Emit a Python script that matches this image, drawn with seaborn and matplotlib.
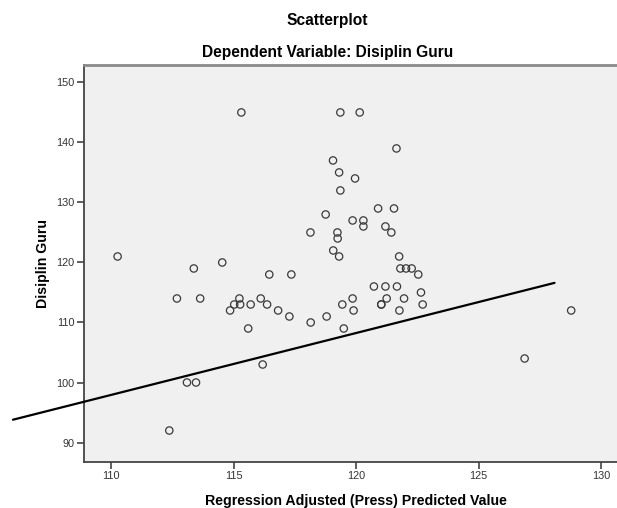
import matplotlib
matplotlib.use('Agg')
import matplotlib.pyplot as plt
import seaborn as sns
import pandas as pd

pred = [110.27, 112.38, 112.69, 113.10, 113.47, 113.38, 113.64, 114.54, 114.86, 115.03,
        115.24, 115.27, 115.32, 115.60, 115.70, 116.11, 116.19, 116.37, 116.46, 116.82,
        117.28, 117.36, 118.14, 118.15, 118.76, 118.80, 119.06, 119.07, 119.24, 119.25,
        119.31, 119.31, 119.36, 119.36, 119.44, 119.50, 119.86, 119.86, 119.90, 119.96,
        120.15, 120.30, 120.30, 120.73, 120.90, 121.03, 121.03, 121.20, 121.20, 121.25,
        121.44, 121.55, 121.65, 121.67, 121.76, 121.77, 121.81, 121.96, 122.04, 122.27,
        122.54, 122.65, 122.72, 126.88, 128.78]
disiplin = [121, 92, 114, 100, 100, 119, 114, 120, 112, 113,
            114, 113, 145, 109, 113, 114, 103, 113, 118, 112,
            111, 118, 125, 110, 128, 111, 137, 122, 125, 124,
            135, 121, 132, 145, 113, 109, 127, 114, 112, 134,
            145, 127, 126, 116, 129, 113, 113, 116, 126, 114,
            125, 129, 139, 116, 121, 112, 119, 114, 119, 119,
            118, 115, 113, 104, 112]

# fit line end points
fit_x = [106.0, 128.1]
fit_y = [93.8, 116.6]

xticks = [110, 115, 120, 125, 130]
yticks = [90, 100, 110, 120, 130, 140, 150]

df = pd.DataFrame({'pred': pred, 'disiplin': disiplin})

sns.set_style('white', {'axes.facecolor': '#f0f0f0'})
plt.rcParams['font.family'] = ['Liberation Sans', 'DejaVu Sans']

fig = plt.figure(figsize=(6.17, 5.08), dpi=100)
ax = fig.add_axes([0.1366, 0.0911, 1 - 0.1366, 0.872 - 0.0911])

sns.scatterplot(data=df, x='pred', y='disiplin', ax=ax, marker='o', s=28,
                facecolor='none', edgecolor='#3a3a3a', linewidth=0.9)
ax.plot(fit_x, fit_y, color='black', lw=1.6, clip_on=False, zorder=3)

ax.set_xlim(108.91, 130.65)
ax.set_ylim(86.8, 152.9)
ax.set_xticks(xticks)
ax.set_yticks(yticks)
ax.tick_params(axis='both', direction='out', length=5, width=1.2, color='#444444',
               labelsize=7.8, labelcolor='#333333', pad=2, bottom=True, left=True)

for side in ['left', 'bottom']:
    ax.spines[side].set_color('#444444')
    ax.spines[side].set_linewidth(1.3)
ax.spines['top'].set_color('#8a8a8a')
ax.spines['top'].set_linewidth(2)
ax.spines['right'].set_visible(False)

ax.set_xlabel('Regression Adjusted (Press) Predicted Value', fontsize=10.2,
              fontweight='bold', va='center', color='black')
ax.set_ylabel('Disiplin Guru', fontsize=10.2, fontweight='bold', va='center',
              color='black')
ax.xaxis.set_label_coords(0.51, -0.099)
ax.yaxis.set_label_coords(-0.078, 0.5)

fig.text(0.531, 1 - 20 / 508, 'Scatterplot', ha='center', va='center',
         fontsize=11.2, fontweight='bold', color='black')
fig.text(0.531, 1 - 52 / 508, 'Dependent Variable: Disiplin Guru', ha='center',
         va='center', fontsize=11.2, fontweight='bold', color='black')

fig.savefig('out.png', dpi=100)
